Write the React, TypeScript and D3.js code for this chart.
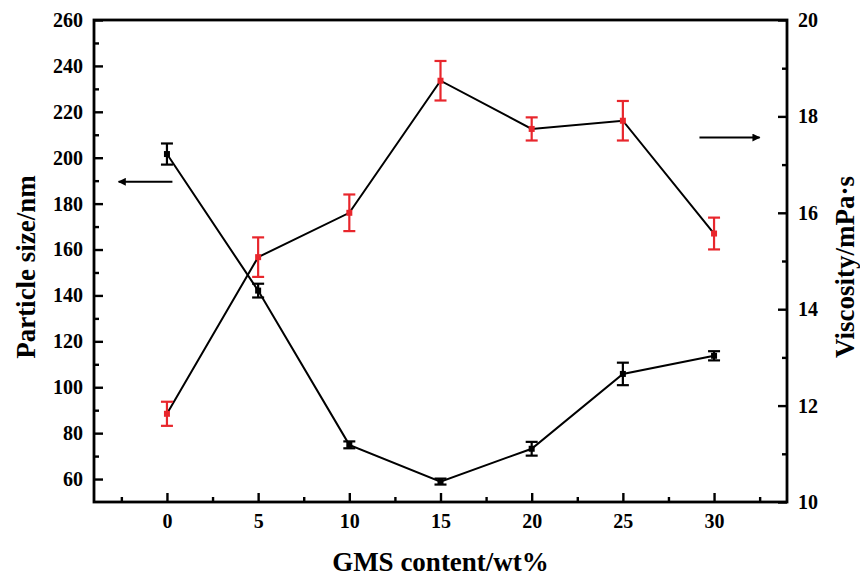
import { useEffect, useRef } from 'react'
import * as d3 from 'd3'

// GMS content (wt%)
const gmsContent = [0, 5, 10, 15, 20, 25, 30]
// particle size (nm), left axis
const particleSize = [201.6, 142.1, 74.9, 58.9, 73.2, 105.8, 113.7]
const particleErr = [4.6, 3.0, 1.5, 1.3, 3.0, 4.9, 2.0]
// viscosity (mPa·s), right axis
const viscosity = [11.83, 15.08, 16.0, 18.74, 17.74, 17.91, 15.57]
const viscosityErr = [0.25, 0.41, 0.38, 0.41, 0.24, 0.41, 0.33]

const xTicks = [0, 5, 10, 15, 20, 25, 30]
const leftTicks = [60, 80, 100, 120, 140, 160, 180, 200, 220, 240, 260]
const rightTicks = [10, 12, 14, 16, 18, 20]

export default function App() {
  const svgRef = useRef<SVGSVGElement>(null)

  useEffect(() => {
    if (!svgRef.current) return
    const svg = d3.select(svgRef.current)
    svg.selectAll('*').remove()

    const width = 860
    const height = 577
    const margin = { top: 20, right: 73, bottom: 75, left: 94 }
    const x0 = margin.left
    const x1 = width - margin.right
    const y0 = height - margin.bottom
    const y1 = margin.top

    const font = '"Liberation Serif", "Times New Roman", serif'
    const red = '#e8262c'

    const x = d3.scaleLinear().domain([-4, 34]).range([x0, x1])
    const yL = d3.scaleLinear().domain([50, 260]).range([y0, y1])
    const yR = d3.scaleLinear().domain([10, 20]).range([y0, y1])

    svg.attr('width', width).attr('height', height)
    svg.append('rect').attr('width', width).attr('height', height).attr('fill', '#fff')

    const axisStyle = (g: any) => {
      g.select('.domain').remove()
      g.selectAll('line').attr('stroke', '#000').attr('stroke-width', 2.4)
      g.selectAll('text')
        .attr('font-family', font)
        .attr('font-weight', 'bold')
        .attr('font-size', 20)
        .attr('fill', '#000')
    }

    // minor ticks first
    svg.append('g')
      .attr('transform', `translate(0,${y0})`)
      .call(d3.axisBottom(x).tickValues(d3.range(-2.5, 34, 5)).tickSize(-5).tickFormat(() => ''))
      .call(axisStyle)
    svg.append('g')
      .attr('transform', `translate(${x0},0)`)
      .call(d3.axisLeft(yL).tickValues(d3.range(70, 260, 20)).tickSize(-5).tickFormat(() => ''))
      .call(axisStyle)
    svg.append('g')
      .attr('transform', `translate(${x1},0)`)
      .call(d3.axisRight(yR).tickValues(d3.range(11, 20, 2)).tickSize(-5).tickFormat(() => ''))
      .call(axisStyle)

    // major ticks
    svg.append('g')
      .attr('transform', `translate(0,${y0})`)
      .call(d3.axisBottom(x).tickValues(xTicks).tickSize(-9).tickPadding(12).tickFormat(d3.format('d')))
      .call(axisStyle)
    svg.append('g')
      .attr('transform', `translate(${x0},0)`)
      .call(d3.axisLeft(yL).tickValues(leftTicks).tickSize(-9).tickPadding(11).tickFormat(d3.format('d')))
      .call(axisStyle)
    svg.append('g')
      .attr('transform', `translate(${x1},0)`)
      .call(d3.axisRight(yR).tickValues(rightTicks).tickSize(-9).tickPadding(11).tickFormat(d3.format('d')))
      .call(axisStyle)

    // frame
    svg.append('rect')
      .attr('x', x0).attr('y', y1)
      .attr('width', x1 - x0).attr('height', y0 - y1)
      .attr('fill', 'none')
      .attr('stroke', '#000')
      .attr('stroke-width', 2.8)

    // lines
    const lineL = d3.line<number>().x((_, i) => x(gmsContent[i])).y(d => yL(d))
    const lineR = d3.line<number>().x((_, i) => x(gmsContent[i])).y(d => yR(d))

    svg.append('path').datum(particleSize).attr('d', lineL)
      .attr('fill', 'none').attr('stroke', '#000').attr('stroke-width', 2)
    svg.append('path').datum(viscosity).attr('d', lineR)
      .attr('fill', 'none').attr('stroke', '#000').attr('stroke-width', 2)

    // error bars + markers
    const drawSeries = (vals: number[], errs: number[], y: any, color: string) => {
      const g = svg.append('g')
      vals.forEach((v, i) => {
        const cx = x(gmsContent[i])
        const top = y(v + errs[i])
        const bot = y(v - errs[i])
        g.append('line').attr('x1', cx).attr('x2', cx).attr('y1', top).attr('y2', bot)
          .attr('stroke', color).attr('stroke-width', 2.2)
        g.append('line').attr('x1', cx - 6).attr('x2', cx + 6).attr('y1', top).attr('y2', top)
          .attr('stroke', color).attr('stroke-width', 2.2)
        g.append('line').attr('x1', cx - 6).attr('x2', cx + 6).attr('y1', bot).attr('y2', bot)
          .attr('stroke', color).attr('stroke-width', 2.2)
        g.append('rect').attr('x', cx - 3).attr('y', y(v) - 3).attr('width', 6).attr('height', 6)
          .attr('fill', color)
      })
    }
    drawSeries(particleSize, particleErr, yL, '#000')
    drawSeries(viscosity, viscosityErr, yR, red)

    // arrows
    svg.append('defs').append('marker')
      .attr('id', 'arrowhead')
      .attr('viewBox', '0 0 10 10')
      .attr('refX', 9).attr('refY', 5)
      .attr('markerWidth', 5).attr('markerHeight', 4)
      .attr('markerUnits', 'strokeWidth')
      .attr('orient', 'auto')
      .append('path').attr('d', 'M0,0 L10,5 L0,10 Z').attr('fill', '#000')

    svg.append('line')
      .attr('x1', x(0.3)).attr('x2', x(-2.65))
      .attr('y1', yL(189.5)).attr('y2', yL(189.5))
      .attr('stroke', '#000').attr('stroke-width', 2)
      .attr('marker-end', 'url(#arrowhead)')
    svg.append('line')
      .attr('x1', x(29.2)).attr('x2', x(32.5))
      .attr('y1', yR(17.56)).attr('y2', yR(17.56))
      .attr('stroke', '#000').attr('stroke-width', 2)
      .attr('marker-end', 'url(#arrowhead)')

    // axis titles
    const title = (t: string) => svg.append('text')
      .attr('font-family', font)
      .attr('font-weight', 'bold')
      .attr('font-size', 27)
      .attr('text-anchor', 'middle')
      .attr('fill', '#000')
      .text(t)

    title('GMS content/wt%').attr('x', (x0 + x1) / 2).attr('y', 571)
    title('Particle size/nm')
      .attr('transform', `translate(35,${(y0 + y1) / 2 + 6}) rotate(-90)`)
    title('Viscosity/mPa·s')
      .attr('transform', `translate(854,${(y0 + y1) / 2 + 6}) rotate(-90)`)
  }, [])

  return (
    <div style={{ position: 'absolute', left: 0, top: 0 }}>
      <svg ref={svgRef} style={{ display: 'block' }}></svg>
    </div>
  )
}
